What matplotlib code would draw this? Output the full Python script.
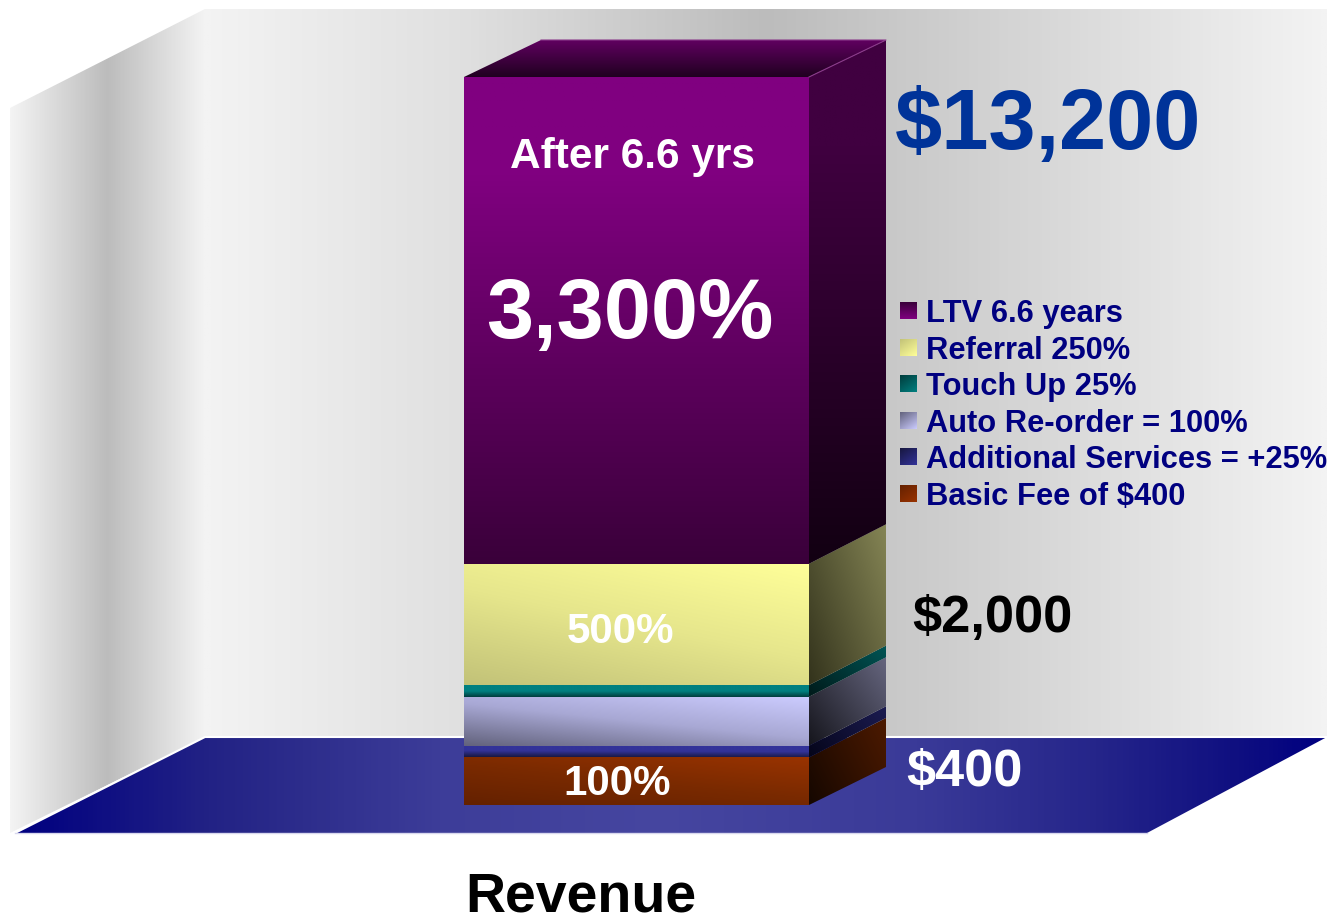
import matplotlib
matplotlib.use("Agg")
import matplotlib.pyplot as plt
import numpy as np
from matplotlib.colors import LinearSegmentedColormap
from matplotlib.patches import Polygon

# stacked from the bottom up in percent of the basic fee
segments = ["Basic Fee", "Additional Services", "Auto Re-order", "Touch Up", "Referral", "LTV"]
values = [98, 24, 101, 24, 250, 1003]
legend_labels = ["LTV 6.6 years", "Referral 250%", "Touch Up 25%",
                 "Auto Re-order = 100%", "Additional Services = +25%", "Basic Fee of $400"]

W, H = 1327, 916
plt.rcParams['font.family'] = ['Liberation Sans', 'DejaVu Sans']

# front colours and angle, side colours and angle for each segment
front_style = [
    (['#642100', '#7a2a00', '#993300'], 55),
    (['#17173f', '#333399', '#333399'], 85),
    (['#62627c', '#a8a8d4', '#ccccff'], 55),
    (['#003c3c', '#008080', '#008080'], 90),
    (['#c2c278', '#e6e68c', '#ffff99'], 60),
    ([(0, '#3a003a'), (0.8, '#800080'), (1, '#800080')], 90),
]
side_style = [
    (['#150700', '#4d1a00'], 30),
    (['#05051a', '#1c1c52'], 30),
    (['#15151c', '#66667f'], 40),
    (['#001a1a', '#005555'], 40),
    (['#33331c', '#858555'], 35),
    ([(0, '#120012'), (0.8, '#400040'), (1, '#400040')], 90),
]


def grad(ax, patch, colors, angle, zorder=3):
    # paint a gradient over the patch bounding box and clip it to the patch
    ax.add_patch(patch)
    patch.set_facecolor('none')
    patch.set_edgecolor('none')
    xy = patch.get_path().vertices
    xy = patch.get_patch_transform().transform(xy)
    x0, x1 = xy[:, 0].min(), xy[:, 0].max()
    y0, y1 = xy[:, 1].min(), xy[:, 1].max()
    u, v = np.meshgrid(np.linspace(0, 1, 300), np.linspace(0, 1, 300))
    a = np.deg2rad(angle)
    t = u * np.cos(a) + v * np.sin(a)
    t = (t - t.min()) / (t.max() - t.min())
    cmap = LinearSegmentedColormap.from_list('g', colors)
    im = ax.imshow(t, cmap=cmap, extent=(x0, x1, y0, y1), origin='lower',
                   aspect='auto', zorder=zorder, vmin=0, vmax=1)
    im.set_clip_path(patch)
    return im


fig = plt.figure(figsize=(W / 100, H / 100), dpi=100, facecolor='white')

# room behind the bar, in pixel coordinates
bg = fig.add_axes([0, 0, 1, 1], zorder=0)
bg.set_xlim(0, W)
bg.set_ylim(H, 0)
bg.set_autoscale_on(False)
bg.axis('off')

grad(bg, Polygon([(10, 108), (205, 9), (205, 737), (10, 833)], closed=True),
     ['#f4f4f4', '#bcbcbc', '#f3f3f3'], 0, 1)
grad(bg, Polygon([(205, 9), (1327, 9), (1327, 737), (205, 737)], closed=True),
     [(0, '#f3f3f3'), (0.227, '#e0e0e0'), (0.5, '#bcbcbc'), (1, '#f3f3f3')], 0, 1)
grad(bg, Polygon([(15, 833), (205, 737), (1327, 737), (1147, 833)], closed=True),
     [(0, '#000080'), (0.145, '#222285'), (0.217, '#2d2d8c'), (0.324, '#3d3d99'),
      (0.49, '#4646a0'), (0.69, '#3a3a98'), (0.827, '#25258a'), (0.94, '#0e0e80'),
      (1, '#000080')], 0, 2)
bg.plot([15, 205, 1327], [833, 737, 737], color='white', lw=1.5, zorder=2.5)
bg.plot([15, 1147], [833, 833], color='#d8d8ee', lw=1, zorder=2.5)

# legend swatches, dark corner to light corner
swatch_colors = [('#3a003a', '#800080'), ('#c2c278', '#ffff99'), ('#003c3c', '#008080'),
                 ('#62627c', '#ccccff'), ('#17173f', '#333399'), ('#642100', '#993300')]
swatch_y = [311, 348, 384, 421, 457, 494]
for i, lab in enumerate(legend_labels):
    y = swatch_y[i]
    grad(bg, Polygon([(900, y - 9), (917, y - 9), (917, y + 8), (900, y + 8)], closed=True),
         list(swatch_colors[i]), 90 if i == 0 else 55, 3)
    fig.text(926 / W, 1 - (y + 3) / H, lab, fontsize=22.2, fontweight='bold', color='#000080',
             ha='left', va='center')

# the bar itself: x axis in pixels, y axis in percent
scale = 728 / sum(values)
ax = fig.add_axes([0, 0, 1, 1], zorder=1)
ax.patch.set_alpha(0)
ax.set_xlim(0, W)
ax.set_ylim(-(H - 805) / scale, 805 / scale)
ax.set_autoscale_on(False)
ax.axis('off')

left, width = 464, 345
depth_x = 77
top = sum(values)
bottoms = np.concatenate([[0], np.cumsum(values)[:-1]])
bars = ax.bar([left + width / 2] * len(values), values, width=width, bottom=bottoms)


def depth(v):
    # the receding edge is a little shorter at the very top and bottom
    if v == top:
        return 37 / scale
    if v == 0:
        return 38 / scale
    return 39.5 / scale


r = left + width
for i, b in enumerate(bars):
    b.remove()
    cols, ang = front_style[i]
    grad(ax, b, cols, ang)
    y0, y1 = bottoms[i], bottoms[i] + values[i]
    side = Polygon([(r, y0), (r + depth_x, y0 + depth(y0)), (r + depth_x, y1 + depth(y1)), (r, y1)], closed=True)
    cols, ang = side_style[i]
    grad(ax, side, cols, ang)

top_face = Polygon([(left, top), (left + depth_x, top + depth(top)),
                    (r + depth_x, top + depth(top)), (r, top)], closed=True)
grad(ax, top_face, ['#200020', '#600060'], 90)
ax.plot([left + depth_x, r + depth_x, r], [top + depth(top), top + depth(top), top],
        color='#8a3a8a', lw=0.8, zorder=4)


# big labels
def label(x, y, s, size, color, ha='center'):
    fig.text(x / W, 1 - y / H, s, fontsize=size, fontweight='bold', color=color, ha=ha, va='center')


label(633, 157, "After 6.6 yrs", 30.5, 'white')
label(630, 316, "3,300%", 61, 'white')
label(620, 632, "500%", 30.3, 'white')
label(617, 784, "100%", 30.3, 'white')
label(1048, 127, "$13,200", 61, '#003399')
label(992, 619, "$2,000", 37.7, 'black')
label(964, 772, "$400", 37.7, 'white')
label(581, 898, "Revenue", 40, 'black')

fig.savefig('out.png', dpi=100, facecolor='white')
